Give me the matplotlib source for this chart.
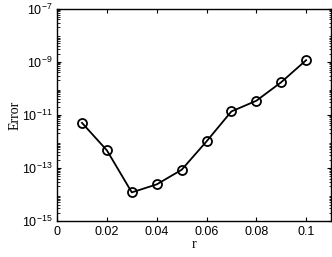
import matplotlib
matplotlib.use('Agg')
import matplotlib.pyplot as plt
from matplotlib.ticker import LogLocator, NullFormatter

r = [0.01, 0.02, 0.03, 0.04, 0.05, 0.06, 0.07, 0.08, 0.09, 0.10]
err = [5.0e-12, 4.6e-13, 1.2e-14, 2.4e-14, 8.5e-14, 1.0e-12, 1.35e-11, 3.4e-11, 1.7e-10, 1.15e-9]

xticks = [0, 0.02, 0.04, 0.06, 0.08, 0.1]
xticklabels = ['0', '0.02', '0.04', '0.06', '0.08', '0.1']

plt.rcParams['font.family'] = ['Liberation Sans', 'DejaVu Sans']

fig = plt.figure(figsize=(3.32, 2.57), dpi=100)
ax = fig.add_axes([0.172, 0.140, 0.825, 0.826])

ax.semilogy(r, err, color='black', linewidth=1.3, marker='o',
            markersize=6.5, markerfacecolor='none', markeredgewidth=1.3)

ax.set_xlim(0, 0.11)
ax.set_ylim(1e-15, 1e-7)
ax.set_xticks(xticks)
ax.set_xticklabels(xticklabels)
ax.set_yticks([1e-15, 1e-13, 1e-11, 1e-9, 1e-7])
ax.yaxis.set_minor_locator(LogLocator(base=10, subs=range(2, 10), numticks=20))
ax.yaxis.set_minor_formatter(NullFormatter())

ax.tick_params(which='both', direction='in', top=True, right=True, labelsize=9)
ax.tick_params(which='major', length=3, width=0.8)
ax.tick_params(which='minor', length=1.8, width=0.6)
for s in ax.spines.values():
    s.set_linewidth(1.0)

ax.set_xlabel('r', family='Liberation Serif', fontsize=10, labelpad=0)
ax.set_ylabel('Error', family='Liberation Serif', fontsize=10, labelpad=0)

fig.savefig('out.png', dpi=100)
